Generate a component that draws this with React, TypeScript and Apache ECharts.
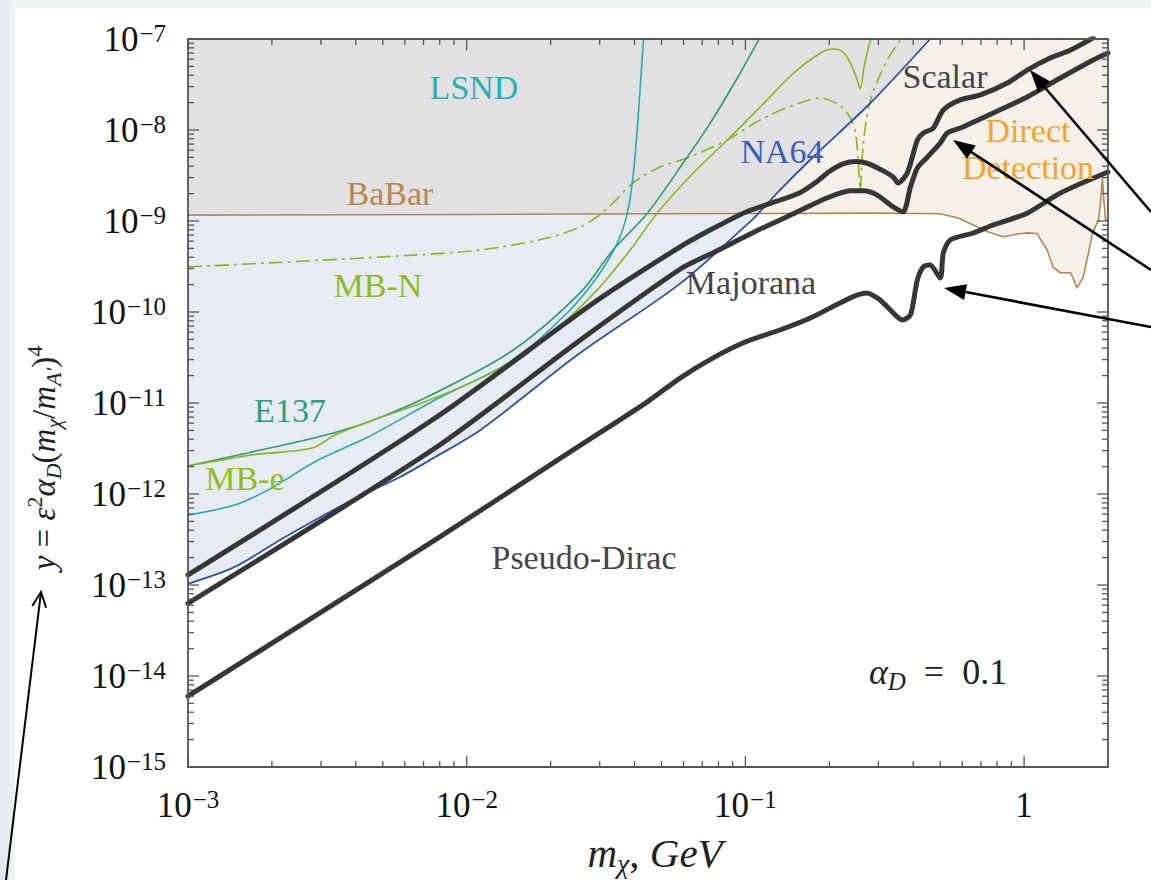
import React, { useEffect, useRef } from "react";
import * as echarts from "echarts";

const SERIF = "Liberation Serif";

// Axis ranges (m_chi in GeV, y = eps^2 alpha_D (m_chi/m_A')^4)
const X_MIN = 1e-3;
const X_MAX = 2;
const Y_MIN = 1e-15;
const Y_MAX = 1e-7;

const xMajorTicks = [1e-3, 1e-2, 1e-1, 1];
const yMajorTicks = [1e-15, 1e-14, 1e-13, 1e-12, 1e-11, 1e-10, 1e-9, 1e-8, 1e-7];
const minorMultipliers = [2, 3, 4, 5, 6, 7, 8, 9];

// BaBar bound, continued to the right by the direct-detection edge
const babarEdge: number[][] = [
  [0.001, 1.16e-9], [0.01, 1.18e-9], [0.1, 1.21e-9], [0.3, 1.22e-9], [0.5, 1.2e-9],
  [0.58, 1.08e-9], [0.66, 9.0e-10], [0.74, 7.6e-10], [0.84, 6.7e-10], [0.95, 7.2e-10],
  [1.03, 7.4e-10], [1.11, 7.3e-10], [1.21, 4.8e-10], [1.27, 3.1e-10], [1.35, 2.7e-10],
  [1.47, 2.7e-10], [1.55, 1.84e-10], [1.63, 2.4e-10], [1.7, 4.4e-10], [1.76, 7.4e-10],
  [1.85, 1.03e-9], [1.88, 1.6e-9], [1.91, 2.9e-9], [1.935, 1.6e-9], [1.96, 1.03e-9], [2.0, 1.03e-9],
];

const na64: number[][] = [
  [0.001, 1.03e-13], [0.00147, 1.58e-13], [0.00223, 3.37e-13], [0.00388, 8.59e-13],
  [0.00577, 1.54e-12], [0.00771, 2.55e-12], [0.0112, 5.05e-12], [0.0255, 3.54e-11],
  [0.0583, 2.05e-10], [0.1057, 1.03e-9], [0.111, 1.2e-9], [0.133, 2.19e-9],
  [0.175, 5.05e-9], [0.281, 1.98e-8], [0.46, 1.0e-7],
];

const lsnd: number[][] = [
  [0.001, 5.87e-13], [0.00147, 7.57e-13], [0.00194, 1.11e-12], [0.00293, 2.36e-12],
  [0.00443, 4.23e-12], [0.00771, 1.08e-11], [0.0147, 2.97e-11], [0.0229, 9.75e-11],
  [0.0294, 2.43e-10], [0.0347, 5.73e-10], [0.0377, 1.22e-9], [0.0395, 3.05e-9],
  [0.0409, 1.0e-8], [0.0421, 3.5e-8], [0.0432, 1.1e-7],
];

const e137: number[][] = [
  [0.001, 2.03e-12], [0.0017, 2.9e-12], [0.00293, 4.23e-12], [0.00443, 6.18e-12],
  [0.00771, 1.29e-11], [0.0147, 3.82e-11], [0.0255, 1.62e-10], [0.0335, 4.8e-10],
  [0.0445, 1.22e-9], [0.0598, 4.34e-9], [0.0748, 1.19e-8], [0.0958, 4.23e-8], [0.113, 1.05e-7],
];

const mbElectron: number[][] = [
  [0.001, 2.03e-12], [0.0017, 2.69e-12], [0.00279, 3.2e-12], [0.00337, 4.45e-12],
  [0.00443, 6.18e-12], [0.00771, 1.14e-11], [0.01285, 2.31e-11], [0.01945, 5.31e-11],
  [0.0294, 1.75e-10], [0.0386, 4.8e-10], [0.0482, 1.22e-9], [0.065, 3.37e-9],
  [0.0861, 7.76e-9], [0.113, 1.79e-8], [0.149, 4.23e-8], [0.186, 7.02e-8],
  [0.206, 7.76e-8], [0.224, 7.19e-8], [0.238, 5.45e-8], [0.252, 3.54e-8],
  [0.258, 2.82e-8], [0.267, 5.05e-8], [0.278, 8.59e-8], [0.285, 1.1e-7],
];

const mbNucleon: number[][] = [
  [0.001, 3.13e-10], [0.00489, 4.02e-10], [0.0112, 4.8e-10], [0.01945, 6.5e-10],
  [0.0255, 8.59e-10], [0.0294, 1.11e-9], [0.0335, 1.58e-9], [0.0395, 2.62e-9],
  [0.0494, 3.92e-9], [0.0618, 4.92e-9], [0.0861, 7.76e-9], [0.113, 1.29e-8],
  [0.149, 1.88e-8], [0.186, 2.25e-8], [0.219, 1.84e-8], [0.238, 1.36e-8],
  [0.248, 9.5e-9], [0.254, 4.7e-9], [0.258, 2.19e-9], [0.265, 7.19e-9],
  [0.281, 2.14e-8], [0.323, 5.88e-8], [0.36, 9.75e-8], [0.37, 1.1e-7],
];

// Thermal targets
const scalarTarget: number[][] = [
  [0.001, 1.29e-13], [0.00771, 6.84e-12], [0.0284, 1.25e-10], [0.0583, 5.2e-10],
  [0.075, 8.0e-10], [0.1, 1.25e-9], [0.126, 1.6e-9], [0.157, 2.05e-9], [0.18, 2.7e-9],
  [0.2, 3.5e-9], [0.224, 4.25e-9], [0.25, 4.5e-9], [0.274, 4.3e-9], [0.31, 3.6e-9],
  [0.339, 3.05e-9], [0.353, 2.62e-9], [0.381, 3.37e-9], [0.414, 7.76e-9], [0.435, 9.27e-9],
  [0.472, 1.05e-8], [0.513, 1.66e-8], [0.59, 2.14e-8], [0.697, 2.43e-8], [0.871, 3.28e-8],
  [1.026, 4.56e-8], [1.24, 6.18e-8], [1.47, 7.57e-8], [1.77, 1.03e-7],
];

const majoranaTarget: number[][] = [
  [0.001, 6.3e-14], [0.00771, 3.2e-12], [0.0255, 4.9e-11], [0.0583, 2.95e-10],
  [0.078, 4.6e-10], [0.1136, 8.2e-10], [0.1486, 1.2e-9], [0.197, 1.8e-9],
  [0.238, 2.15e-9], [0.265, 2.15e-9], [0.295, 1.95e-9], [0.339, 1.43e-9],
  [0.368, 1.26e-9], [0.391, 2.36e-9], [0.414, 3.82e-9], [0.45, 5.05e-9],
  [0.5, 7.19e-9], [0.53, 9.27e-9], [0.59, 1.05e-8], [0.775, 1.54e-8], [1.026, 2.31e-8],
  [1.35, 3.73e-8], [1.77, 5.88e-8], [2.0, 7.02e-8],
];

const pseudoDiracTarget: number[][] = [
  [0.001, 6.0e-15], [0.00771, 3.13e-13], [0.0241, 3.05e-12], [0.0445, 1.03e-11],
  [0.0583, 1.88e-11], [0.0766, 3.13e-11], [0.0998, 4.68e-11], [0.133, 6.34e-11],
  [0.171, 8.59e-11], [0.219, 1.26e-10], [0.25, 1.52e-10], [0.272, 1.62e-10],
  [0.3, 1.4e-10], [0.323, 1.14e-10], [0.366, 8.17e-11], [0.391, 9.27e-11], [0.414, 2.25e-10],
  [0.435, 3.13e-10], [0.46, 3.28e-10], [0.5, 2.36e-10], [0.513, 4.45e-10],
  [0.543, 6.18e-10], [0.657, 7.38e-10], [0.775, 9.04e-10], [1.026, 1.22e-9],
  [1.35, 2.03e-9], [2.0, 3.45e-9],
];

const COLORS = {
  gray: "#e1e1e3",
  blue: "#e7ebf4",
  beige: "#f5f0e9",
  babar: "#b8864c",
  lsnd: "#26aab4",
  e137: "#2d9a76",
  mb: "#88b71d",
  na64: "#2b52ad",
  target: "#363636",
  frame: "#555555",
};

// log-log interpolation along a curve
function logInterp(curve: number[][], x: number): number {
  const lx = Math.log10(x);
  for (let i = 0; i < curve.length - 1; i++) {
    const [x0, y0] = curve[i];
    const [x1, y1] = curve[i + 1];
    if (x >= x0 && x <= x1) {
      const t = (lx - Math.log10(x0)) / (Math.log10(x1) - Math.log10(x0));
      return Math.pow(10, Math.log10(y0) + t * (Math.log10(y1) - Math.log10(y0)));
    }
  }
  return NaN;
}

// upper edge of the excluded (gray) region: BaBar up to the crossing, NA64 above it
const crossX = na64.find((p) => p[1] >= logInterp(babarEdge, p[0]))![0];
const grayEdge = [
  ...babarEdge.filter((p) => p[0] < crossX),
  ...na64.filter((p) => p[0] >= crossX),
];

function minorTicks(decades: number[]): number[] {
  const out: number[] = [];
  decades.forEach((d) => minorMultipliers.forEach((m) => out.push(d * m)));
  return out;
}
const xMinorTicks = minorTicks([1e-3, 1e-2, 1e-1]).concat([2]).filter((v) => v <= X_MAX);
const yMinorTicks = minorTicks(yMajorTicks.slice(0, -1));

const tickItems: number[][] = [
  ...xMajorTicks.map((v) => [v, Y_MIN, 0]),
  ...xMinorTicks.map((v) => [v, Y_MIN, 1]),
  ...yMajorTicks.map((v) => [X_MIN, v, 2]),
  ...yMinorTicks.map((v) => [X_MIN, v, 3]),
  [X_MIN, Y_MIN, 4],
];

function powerLabel(v: number): string {
  const lg = Math.log10(v);
  const e = Math.round(lg);
  if (Math.abs(lg - e) > 1e-6) return "";
  if (e === 0) return "{b|1}";
  return `{b|10}{s|${e < 0 ? "−" : ""}${Math.abs(e)}}`;
}

const tickRich = {
  b: { fontSize: 35, fontFamily: SERIF, color: "#111", lineHeight: 36 },
  s: { fontSize: 25, fontFamily: SERIF, color: "#111", lineHeight: 24, verticalAlign: "top", padding: [0, 0, 0, 1] },
};

function lineSeries(name: string, data: number[][], color: string, width: number, extra: any = {}) {
  return {
    type: "line",
    name,
    data,
    symbol: "none",
    showSymbol: false,
    silent: true,
    smooth: 0.3,
    clip: true,
    lineStyle: { color, width, cap: "round", join: "round" },
    ...extra,
  };
}

function fillSeries(name: string, data: number[][], color: string, smooth: number | boolean) {
  return {
    type: "line",
    name,
    data,
    symbol: "none",
    showSymbol: false,
    silent: true,
    smooth,
    clip: true,
    lineStyle: { width: 0, opacity: 0 },
    areaStyle: { color, opacity: 1, origin: "end" },
  };
}

function arrow(tail: number[], tip: number[], open = false) {
  const dx = tip[0] - tail[0];
  const dy = tip[1] - tail[1];
  const len = Math.hypot(dx, dy);
  const ux = dx / len;
  const uy = dy / len;
  const headLen = open ? 15 : 22;
  const headW = open ? 7 : 8;
  const bx = tip[0] - ux * headLen;
  const by = tip[1] - uy * headLen;
  const px = -uy;
  const py = ux;
  const left = [bx + px * headW, by + py * headW];
  const right = [bx - px * headW, by - py * headW];
  const els: any[] = [
    {
      type: "line",
      z: 100,
      shape: { x1: tail[0], y1: tail[1], x2: open ? tip[0] : bx, y2: open ? tip[1] : by },
      style: { stroke: "#000", lineWidth: open ? 2 : 2.6 },
    },
  ];
  if (open) {
    els.push({
      type: "polyline",
      z: 100,
      shape: { points: [left, tip, right] },
      style: { stroke: "#000", lineWidth: 2, fill: null },
    });
  } else {
    els.push({
      type: "polygon",
      z: 100,
      shape: { points: [tip, left, right] },
      style: { fill: "#000" },
    });
  }
  return els;
}

function label(text: string, x: number, y: number, color: string, size = 34) {
  return {
    type: "text",
    z: 100,
    x,
    y,
    style: { text, fill: color, fontSize: size, fontFamily: SERIF, align: "center", verticalAlign: "middle" },
  };
}

export default function App() {
  const ref = useRef<HTMLDivElement>(null);

  useEffect(() => {
    document.body.style.margin = "0";
    if (!ref.current) return;
    const chart = echarts.init(ref.current, null, { renderer: "svg" });

    const mathRich = (size: number, sub: number) => ({
      i: { fontSize: size, fontFamily: SERIF, fontStyle: "italic", fill: "#222", lineHeight: size + 8 },
      r: { fontSize: size, fontFamily: SERIF, fill: "#222", lineHeight: size + 8 },
      sup: { fontSize: sub, fontFamily: SERIF, fill: "#222", lineHeight: sub, verticalAlign: "top" },
      sub: { fontSize: sub, fontFamily: SERIF, fontStyle: "italic", fill: "#222", lineHeight: sub, verticalAlign: "bottom" },
    });

    const option: any = {
      animation: false,
      backgroundColor: "#ffffff",
      grid: { left: 188, top: 39, right: 43, bottom: 113, show: false },
      xAxis: {
        type: "log",
        logBase: 10,
        min: X_MIN,
        max: X_MAX,
        axisLine: { show: false },
        axisTick: { show: false },
        splitLine: { show: false },
        minorTick: { show: false },
        axisLabel: { margin: 20, formatter: powerLabel, rich: tickRich, showMaxLabel: false },
      },
      yAxis: {
        type: "log",
        logBase: 10,
        min: Y_MIN,
        max: Y_MAX,
        axisLine: { show: false },
        axisTick: { show: false },
        splitLine: { show: false },
        minorTick: { show: false },
        axisLabel: { margin: 22, formatter: powerLabel, rich: tickRich },
      },
      series: [
        fillSeries("Direct detection region", babarEdge, COLORS.beige, false),
        fillSeries("NA64 region", na64, COLORS.blue, 0.3),
        fillSeries("Excluded region", grayEdge, COLORS.gray, 0.3),
        lineSeries("BaBar", babarEdge, COLORS.babar, 1.6, { smooth: false }),
        lineSeries("MB-N", mbNucleon, COLORS.mb, 1.6, {
          lineStyle: { color: COLORS.mb, width: 1.6, type: [14, 5, 3, 5] },
        }),
        lineSeries("LSND", lsnd, COLORS.lsnd, 1.6),
        lineSeries("E137", e137, COLORS.e137, 1.6),
        lineSeries("MB-e", mbElectron, COLORS.mb, 1.6),
        lineSeries("NA64", na64, COLORS.na64, 1.8),
        lineSeries("Pseudo-Dirac", pseudoDiracTarget, COLORS.target, 5, { smooth: 0.25 }),
        lineSeries("Majorana", majoranaTarget, COLORS.target, 5, { smooth: 0.25 }),
        lineSeries("Scalar", scalarTarget, COLORS.target, 5, { smooth: 0.25 }),
        {
          type: "custom",
          name: "frame",
          silent: true,
          clip: false,
          z: 10,
          data: tickItems,
          encode: { x: 0, y: 1 },
          renderItem: (_params: any, api: any) => {
            const kind = api.value(2);
            const v0 = api.value(0);
            const v1 = api.value(1);
            const style = { stroke: COLORS.frame, lineWidth: 1.3, fill: null };
            if (kind === 4) {
              const tl = api.coord([X_MIN, Y_MAX]);
              const br = api.coord([X_MAX, Y_MIN]);
              return {
                type: "rect",
                shape: { x: tl[0], y: tl[1], width: br[0] - tl[0], height: br[1] - tl[1] },
                style: { stroke: COLORS.frame, lineWidth: 1.8, fill: null },
              };
            }
            const len = kind % 2 === 0 ? 11 : 6;
            if (kind < 2) {
              const b = api.coord([v0, Y_MIN]);
              const t = api.coord([v0, Y_MAX]);
              return {
                type: "group",
                children: [
                  { type: "line", shape: { x1: b[0], y1: b[1], x2: b[0], y2: b[1] - len }, style },
                  { type: "line", shape: { x1: t[0], y1: t[1], x2: t[0], y2: t[1] + len }, style },
                ],
              };
            }
            const l = api.coord([X_MIN, v1]);
            const r = api.coord([X_MAX, v1]);
            return {
              type: "group",
              children: [
                { type: "line", shape: { x1: l[0], y1: l[1], x2: l[0] + len, y2: l[1] }, style },
                { type: "line", shape: { x1: r[0], y1: r[1], x2: r[0] - len, y2: r[1] }, style },
              ],
            };
          },
        },
      ],
      graphic: [
        {
          type: "rect",
          z: 0,
          shape: { x: 0, y: 0, width: 1151, height: 8 },
          style: { fill: "#eef1f2" },
        },
        {
          type: "rect",
          z: 0,
          shape: { x: 0, y: 0, width: 15, height: 880 },
          style: {
            fill: new echarts.graphic.LinearGradient(0, 0, 1, 0, [
              { offset: 0, color: "#dfe7ea" },
              { offset: 1, color: "#f0f4f5" },
            ]),
          },
        },
        label("LSND", 474, 87, "#27aeb8"),
        label("BaBar", 390, 193, "#b9874e"),
        label("MB-N", 378, 285, "#8dbc22"),
        label("NA64", 782, 151, "#3b5db4"),
        label("Scalar", 945, 76, "#454545"),
        label("Direct", 1028, 130, "#f2a52a"),
        label("Detection", 1028, 167, "#f2a52a"),
        label("Majorana", 751, 282, "#454545"),
        label("E137", 290, 410, "#2f9f7b"),
        label("MB-e", 245, 478, "#8dbc22"),
        label("Pseudo-Dirac", 584, 557, "#454545"),
        {
          type: "text",
          z: 100,
          x: 938,
          y: 672,
          style: {
            text: "{i|α}{sub|D}{r|  =  0.1}",
            align: "center",
            verticalAlign: "middle",
            rich: mathRich(36, 25),
          },
        },
        {
          type: "text",
          z: 100,
          x: 655,
          y: 853,
          style: {
            text: "{i|m}{sub|χ}{r|, }{i|GeV}",
            align: "center",
            verticalAlign: "middle",
            rich: mathRich(41, 28),
          },
        },
        {
          type: "text",
          z: 100,
          x: 44,
          y: 458,
          rotation: Math.PI / 2,
          style: {
            text: "{i|y}{r| = }{i|ε}{sup|2}{i|α}{sub|D}{r|(}{i|m}{sub|χ}{r|/}{i|m}{sub|A′}{r|)}{sup|4}",
            align: "center",
            verticalAlign: "middle",
            rich: mathRich(33, 22),
          },
        },
        ...arrow([1151, 212], [1030, 70]),
        ...arrow([1151, 270], [953, 140]),
        ...arrow([1151, 327], [944, 288]),
        ...arrow([6, 880], [41, 592], true),
      ],
    };

    chart.setOption(option);
    return () => chart.dispose();
  }, []);

  return <div ref={ref} style={{ width: 1151, height: 880 }} />;
}
